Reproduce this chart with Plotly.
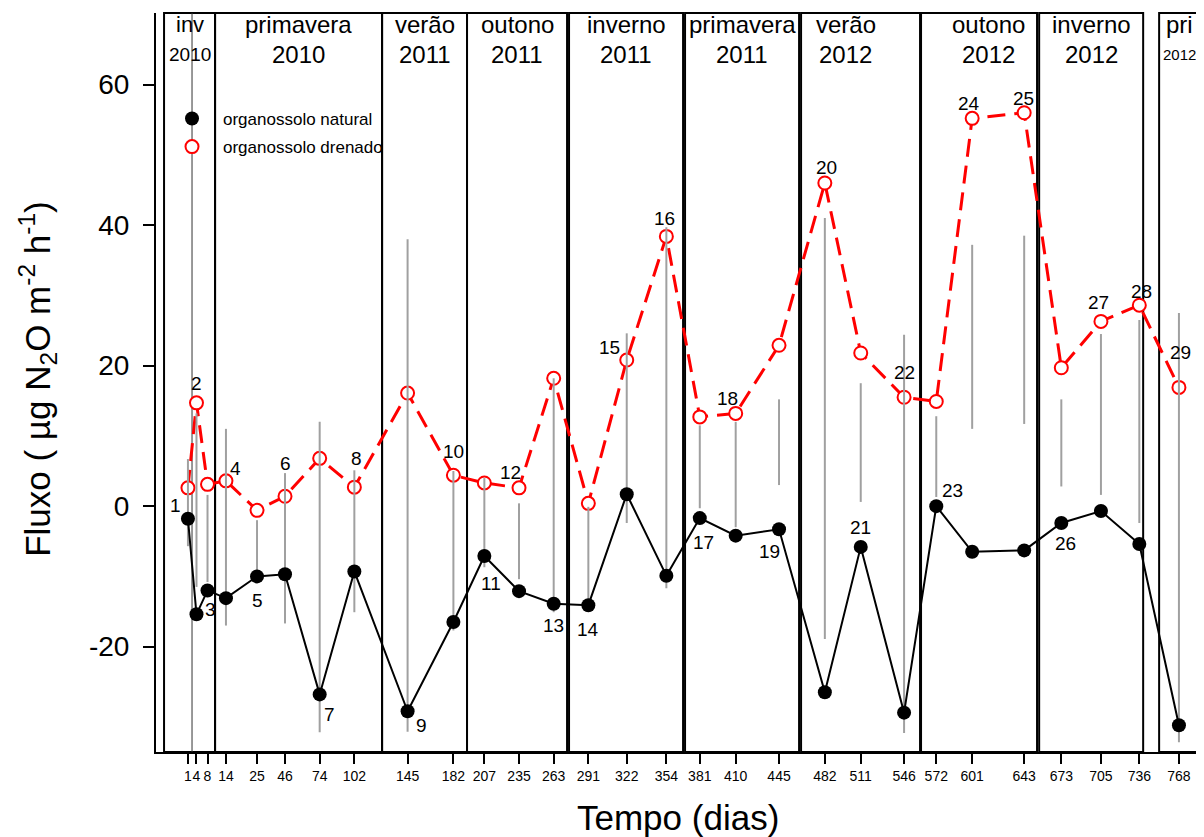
import plotly.graph_objects as go

# ---------------- data ----------------
# sampling positions on the time axis and their day labels
x_pos = [-32.4, -25.5, -16.6, -1.7, 23.4, 46, 74, 102, 145, 182, 207, 235, 263,
         291, 322, 354, 381, 410, 445, 482, 511, 546, 572, 601, 643, 673, 705,
         736, 768]
day_labels = ["1", "4", "8", "14", "25", "46", "74", "102", "145", "182", "207",
              "235", "263", "291", "322", "354", "381", "410", "445", "482",
              "511", "546", "572", "601", "643", "673", "705", "736", "768"]
point_ids = [str(i) for i in range(1, 30)]

natural = [-1.8, -15.4, -12.0, -13.1, -10.0, -9.7, -26.8, -9.3, -29.2, -16.5,
           -7.1, -12.1, -13.9, -14.1, 1.7, -9.9, -1.7, -4.2, -3.3, -26.5, -5.8,
           -29.4, 0.0, -6.5, -6.3, -2.4, -0.7, -5.4, -31.2]
drenado = [2.6, 14.7, 3.1, 3.6, -0.6, 1.4, 6.8, 2.7, 16.1, 4.4, 3.3, 2.6, 18.2,
           0.4, 20.8, 38.4, 12.7, 13.2, 22.9, 46.0, 21.8, 15.5, 14.9, 55.2, 56.0,
           19.7, 26.3, 28.6, 16.9]
bar_high = [6.7, 13.2, 1.6, 11.0, -2.0, 4.7, 12.0, 5.1, 38.0, 5.0, 4.0, 0.4,
            18.2, -0.1, 24.6, 39.7, 11.5, 12.0, 15.2, 41.0, 17.5, 24.4, 12.8,
            37.2, 38.5, 15.2, 24.5, 26.5, 27.5]
bar_low = [-5.7, -11.5, -10.8, -17.0, -9.1, -16.7, -32.2, -15.1, -32.1, -17.7,
           -8.7, -10.4, -15.1, -14.2, -2.4, -11.7, -0.3, -3.0, 3.0, -18.9, 0.6,
           -32.3, 1.3, 11.0, 11.7, 2.8, 1.6, -2.4, -33.6]

season_names = ["inv", "primavera", "verão", "outono", "inverno", "primavera",
                "verão", "outono", "inverno", "pri"]
season_years = ["2010", "2010", "2011", "2011", "2011", "2011", "2012", "2012",
                "2012", "2012"]
season_start = [-51.7, -10.5, 124.4, 193.0, 275.4, 369.1, 462.8, 559.7, 655.1, 752.0]
season_end = [-10.5, 124.4, 193.0, 273.8, 367.5, 461.2, 558.9, 653.4, 739.1, 784.3]
ref_line_x = -29.1

y_ticks = [-20, 0, 20, 40, 60]
y_tick_labels = ["-20", "0", "20", "40", "60"]

# ---------------- styles ----------------
FONT = "Liberation Sans, Arial, Helvetica, sans-serif"
season_name_size = [22, 24, 24, 24, 24, 24, 24, 24, 24, 24]
season_year_size = [19, 24, 24, 24, 24, 24, 24, 24, 24, 15]
season_label_shift = [0, 0, 0, 0, 0, 0, -15, 9, 0, 0]
ROW1_Y = 0.9838   # paper y of season names
ROW2_Y = 0.9432   # paper y of season years
# point-label anchor series ("n" natural / "d" drenado) and pixel offsets
label_anchor = ["n", "d", "n", "d", "n", "d", "n", "d", "n", "d", "n", "d", "n",
                "n", "d", "d", "n", "d", "n", "d", "n", "d", "n", "d", "d", "n",
                "d", "d", "d"]
label_dx = [-12, 0, 3, 10, 0, 0, 10, 2, 14, 0, 7, -9, 0, 0, -17, -2, 4, -8, -10,
            2, 0, 0, 16, -3, -1, 4, -2, 2, 2]
label_dy = [-13, -19, 19, -12, 24, -33, 20, -29, 14, -24, 27, -15, 22, 24, -13,
            -18, 24, -15, 22, -16, -19, -25, -16, -15, -14, 21, -19, -14, -35]

fig = go.Figure()

# season boxes
for s, e in zip(season_start, season_end):
    fig.add_shape(type="rect", xref="x", yref="paper", x0=s, x1=e, y0=0, y1=1,
                  line=dict(color="black", width=2), layer="below")
fig.add_shape(type="line", xref="x", yref="paper", x0=ref_line_x, x1=ref_line_x,
              y0=0, y1=1, line=dict(color="#333333", width=1), layer="below")

for name, yr, s, e, ns, ys, sh in zip(season_names, season_years, season_start,
                                      season_end, season_name_size,
                                      season_year_size, season_label_shift):
    xc = (s + e) / 2
    fig.add_annotation(x=xc, y=ROW1_Y, xref="x", yref="paper", text=name,
                       showarrow=False, xshift=sh,
                       font=dict(size=ns, family=FONT, color="black"),
                       xanchor="center", yanchor="middle")
    fig.add_annotation(x=xc, y=ROW2_Y, xref="x", yref="paper", text=yr,
                       showarrow=False, xshift=sh,
                       font=dict(size=ys, family=FONT, color="black"),
                       xanchor="center", yanchor="middle")

# drenado series
fig.add_trace(go.Scatter(
    x=x_pos, y=drenado, mode="lines+markers", showlegend=False,
    line=dict(color="#ff0000", width=3, dash="18px,9px"),
    marker=dict(symbol="circle", size=13, color="white",
                line=dict(color="#ff0000", width=2)),
))

# gray bars
bx, by = [], []
for xv, lo, hi in zip(x_pos, bar_low, bar_high):
    bx += [xv, xv, None]
    by += [lo, hi, None]
fig.add_trace(go.Scatter(x=bx, y=by, mode="lines", showlegend=False,
                         line=dict(color="#a0a0a0", width=2), hoverinfo="skip"))

# natural series
fig.add_trace(go.Scatter(
    x=x_pos, y=natural, mode="lines+markers", showlegend=False,
    line=dict(color="black", width=2),
    marker=dict(symbol="circle", size=14, color="black"),
))

# legend entries (markers only)
fig.add_trace(go.Scatter(x=[None], y=[None], mode="markers",
                         name="organossolo natural", legendgroup="a",
                         marker=dict(symbol="circle", size=14, color="black")))
fig.add_trace(go.Scatter(x=[None], y=[None], mode="markers",
                         name="organossolo drenado", legendgroup="b",
                         marker=dict(symbol="circle", size=13, color="white",
                                     line=dict(color="#ff0000", width=2))))

# point labels
for i, pid in enumerate(point_ids):
    yv = natural[i] if label_anchor[i] == "n" else drenado[i]
    fig.add_annotation(x=x_pos[i], y=yv, xref="x", yref="y", text=pid,
                       showarrow=False, xshift=label_dx[i], yshift=-label_dy[i],
                       font=dict(size=19, family=FONT, color="black"),
                       xanchor="center", yanchor="middle")

# axis titles
fig.add_annotation(x=-0.1131, y=0.505, xref="paper", yref="paper",
                   text="Fluxo ( µg N<sub>2</sub>O m<sup>-2</sup> h<sup>-1</sup>)",
                   textangle=-90, showarrow=False,
                   font=dict(size=35, family=FONT, color="black"),
                   xanchor="center", yanchor="middle")
fig.add_annotation(x=0.5, y=-0.089, xref="paper", yref="paper",
                   text="Tempo (dias)", showarrow=False,
                   font=dict(size=35, family=FONT, color="black"),
                   xanchor="center", yanchor="middle")

# the page body keeps an 8px margin, so the figure is 8px smaller each way
fig.update_layout(
    width=1196, height=829,
    margin=dict(l=148, r=5, t=5, b=85),
    plot_bgcolor="white", paper_bgcolor="white",
    font=dict(family=FONT, color="black"),
    showlegend=True,
    legend=dict(x=0.0048, y=0.881, xanchor="left", yanchor="top",
                bgcolor="rgba(0,0,0,0)", font=dict(size=17, family=FONT),
                itemwidth=52, traceorder="grouped", tracegroupgap=3),
    xaxis=dict(range=[-58.2, 784.2], tickmode="array", tickvals=x_pos,
               ticktext=day_labels, ticks="outside", ticklen=10, tickwidth=1.5,
               tickangle=0,
               tickcolor="black", showline=True, linecolor="black", linewidth=2,
               showgrid=False, zeroline=False,
               tickfont=dict(size=14, family=FONT, color="black")),
    yaxis=dict(range=[-35.0, 70.2], tickmode="array", tickvals=y_ticks,
               ticktext=y_tick_labels,
               ticks="outside", ticklen=11, tickwidth=1.5, tickcolor="black",
               showline=True, linecolor="black", linewidth=2, showgrid=False,
               zeroline=False, ticklabelstandoff=8,
               tickfont=dict(size=28, family=FONT, color="black")),
)

fig.write_html("out.html")
